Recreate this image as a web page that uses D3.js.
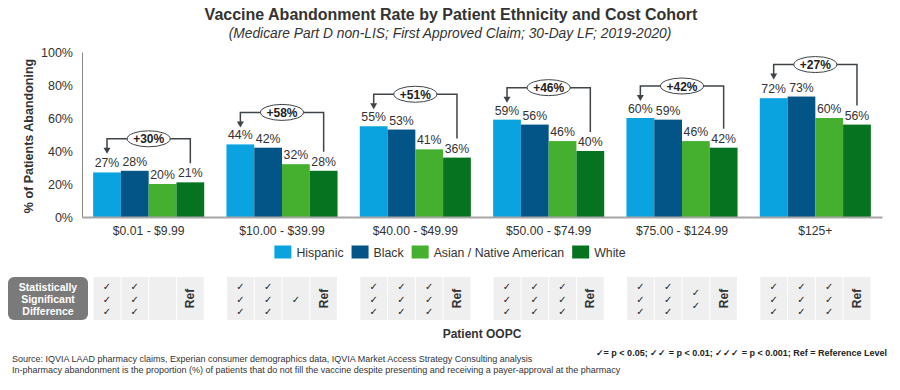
<!DOCTYPE html>
<html><head><meta charset="utf-8">
<script src="https://cdn.jsdelivr.net/npm/d3@7"></script>
<style>
html,body{margin:0;padding:0;background:#fff;}
svg{display:block;font-family:Arial,"Liberation Sans",sans-serif;}
</style></head>
<body>
<svg id="chart" width="900" height="390"></svg>
<script>
const categories = ["$0.01 - $9.99", "$10.00 - $39.99", "$40.00 - $49.99", "$50.00 - $74.99", "$75.00 - $124.99", "$125+"];
const seriesNames = ["Hispanic", "Black", "Asian / Native American", "White"];
const hispanic = [27, 44, 55, 59, 60, 72];
const black = [28, 42, 53, 56, 59, 73];
const asian = [20, 32, 41, 46, 46, 60];
const white = [21, 28, 36, 40, 42, 56];
const diffLabels = ["+30%", "+58%", "+51%", "+46%", "+42%", "+27%"];
const sigHispanic = [3, 3, 3, 3, 3, 3];
const sigBlack = [3, 3, 3, 3, 3, 3];
const sigAsian = [0, 1, 3, 3, 2, 3];
const sigWhite = ["Ref", "Ref", "Ref", "Ref", "Ref", "Ref"];
const yTicks = [0, 20, 40, 60, 80, 100];
const colors = ["#0aa3df", "#045587", "#45b02f", "#05731f"];

const values = [hispanic, black, asian, white];
const sigs = [sigHispanic, sigBlack, sigAsian, sigWhite];

const svg = d3.select("#chart");
const txt = "#333";

const x0 = d3.scaleBand().domain(categories).range([82, 882]).paddingInner(0.167).paddingOuter(0.0835);
const x1 = d3.scaleBand().domain(seriesNames).range([0, x0.bandwidth()]);
const y = d3.scaleLinear().domain([0, 100]).range([217, 52]);
const color = d3.scaleOrdinal().domain(seriesNames).range(colors);

// Title
svg.append("text").attr("x", 451).attr("y", 20).attr("text-anchor", "middle")
  .attr("font-size", 16).attr("font-weight", "bold").attr("fill", txt)
  .text("Vaccine Abandonment Rate by Patient Ethnicity and Cost Cohort");
svg.append("text").attr("x", 450).attr("y", 38).attr("text-anchor", "middle")
  .attr("font-size", 13.8).attr("font-style", "italic").attr("fill", txt)
  .text("(Medicare Part D non-LIS; First Approved Claim; 30-Day LF; 2019-2020)");

// Y axis
const yAxis = d3.axisLeft(y).tickValues(yTicks).tickSize(0).tickPadding(9).tickFormat(d => d + "%");
const yg = svg.append("g").attr("transform", "translate(82,0)").call(yAxis);
yg.select(".domain").attr("stroke", "#888").attr("stroke-width", 1);
yg.selectAll("text").attr("font-size", 12.5).attr("fill", txt).attr("font-family", "Arial, 'Liberation Sans', sans-serif");

svg.append("text").attr("transform", "translate(33,136) rotate(-90)").attr("text-anchor", "middle")
  .attr("font-size", 12.5).attr("font-weight", "bold").attr("fill", txt)
  .text("% of Patients Abandoning");

// Bars
const groups = svg.append("g").selectAll("g").data(categories).join("g")
  .attr("transform", d => `translate(${x0(d)},0)`);
groups.each(function(cat, ci) {
  const g = d3.select(this);
  seriesNames.forEach((s, si) => {
    const v = values[si][ci];
    g.append("rect").attr("x", x1(s)).attr("y", y(v)).attr("width", x1.bandwidth()).attr("height", y(0) - y(v))
      .attr("fill", color(s));
    g.append("text").attr("x", x1(s) + x1.bandwidth() / 2).attr("y", y(v) - 5).attr("text-anchor", "middle")
      .attr("font-size", 12.3).attr("fill", txt).text(v + "%");
  });
});

// X axis
const xAxis = d3.axisBottom(x0).tickSize(0).tickPadding(9);
const xg = svg.append("g").attr("transform", "translate(0,217)").call(xAxis);
xg.select(".domain").attr("stroke", "#a6a6a6").attr("stroke-width", 2);
xg.selectAll("text").attr("font-size", 12.2).attr("fill", txt).attr("font-family", "Arial, 'Liberation Sans', sans-serif");

// Brackets
const bc = "#3f4448";
categories.forEach((cat, ci) => {
  const gmax = d3.max(values, a => a[ci]);
  const hy = y(gmax) - 32;
  const lx = x0(cat) + x1(seriesNames[0]) + x1.bandwidth() / 2;
  const rx = x0(cat) + x1(seriesNames[3]) + x1.bandwidth() / 2;
  const ry = y(white[ci]) - 19;
  svg.append("path").attr("d", `M${lx},${hy + 11}V${hy}H${rx}V${ry}`)
    .attr("fill", "none").attr("stroke", bc).attr("stroke-width", 1.5);
  svg.append("path").attr("d", `M${lx - 3.5},${hy + 9}L${lx + 3.5},${hy + 9}L${lx},${hy + 15}Z`).attr("fill", bc);
  const cx = x0(cat) + x0.bandwidth() / 2;
  svg.append("ellipse").attr("cx", cx).attr("cy", hy).attr("rx", 21.5).attr("ry", 8)
    .attr("fill", "#fff").attr("stroke", bc).attr("stroke-width", 1);
  svg.append("text").attr("x", cx).attr("y", hy + 4.5).attr("text-anchor", "middle")
    .attr("font-size", 12).attr("font-weight", "bold").attr("fill", "#222").text(diffLabels[ci]);
});

// Legend
const leg = svg.append("g");
let legX = 0;
seriesNames.forEach((s, i) => {
  const g = leg.append("g").attr("transform", `translate(${legX},0)`);
  g.append("rect").attr("x", 0).attr("y", -6.5).attr("width", 17).attr("height", 13).attr("fill", color(s));
  const t = g.append("text").attr("x", 22).attr("y", 4.5).attr("font-size", 12.3).attr("fill", txt).text(s);
  legX += 22 + t.node().getComputedTextLength() + 8;
});
const lw = legX - 8;
leg.attr("transform", `translate(${450 - lw / 2},252)`);

// Significance table
const tTop = 277, tBottom = 320;
svg.append("rect").attr("x", 8).attr("y", tTop).attr("width", 80).attr("height", tBottom - tTop).attr("rx", 6)
  .attr("fill", "#7a7a7a");
["Statistically", "Significant", "Difference"].forEach((l, i) => {
  svg.append("text").attr("x", 48).attr("y", 291 + i * 12).attr("text-anchor", "middle")
    .attr("font-size", 10.5).attr("font-weight", "bold").attr("fill", "#fff").text(l);
});
categories.forEach((cat, ci) => {
  seriesNames.forEach((s, si) => {
    const cx0 = x0(cat) + x1(s);
    const cw = x1.bandwidth();
    svg.append("rect").attr("x", cx0 + 0.5).attr("y", tTop).attr("width", cw - 1).attr("height", tBottom - tTop)
      .attr("fill", "#efefef");
    const v = sigs[si][ci];
    const mx = cx0 + cw / 2;
    if (v === "Ref") {
      svg.append("text").attr("transform", `translate(${mx + 4},${(tTop + tBottom) / 2}) rotate(-90)`)
        .attr("text-anchor", "middle").attr("font-size", 12).attr("font-weight", "bold").attr("fill", txt).text("Ref");
    } else if (v > 0) {
      const start = (tTop + tBottom) / 2 - (v - 1) * 12.5 / 2;
      for (let k = 0; k < v; k++) {
        svg.append("text").attr("x", mx).attr("y", start + k * 12.5 + 4).attr("text-anchor", "middle")
          .attr("font-size", 10).attr("fill", "#222").attr("font-family", "'DejaVu Sans', sans-serif").text("\u2713");
      }
    }
  });
});

svg.append("text").attr("x", 482).attr("y", 338).attr("text-anchor", "middle")
  .attr("font-size", 12).attr("font-weight", "bold").attr("fill", txt).text("Patient OOPC");

svg.append("text").attr("x", 887).attr("y", 356).attr("text-anchor", "end")
  .attr("font-size", 9).attr("font-weight", "bold").attr("fill", "#222")
  .text("\u2713= p < 0.05; \u2713\u2713 = p < 0.01; \u2713\u2713\u2713 = p < 0.001; Ref = Reference Level");

svg.append("text").attr("x", 12).attr("y", 362).attr("font-size", 9).attr("fill", txt)
  .text("Source: IQVIA LAAD pharmacy claims, Experian consumer demographics data, IQVIA Market Access Strategy Consulting analysis");
svg.append("text").attr("x", 12).attr("y", 373).attr("font-size", 9).attr("fill", txt)
  .text("In-pharmacy abandonment is the proportion (%) of patients that do not fill the vaccine despite presenting and receiving a payer-approval at the pharmacy");
</script>
</body></html>
